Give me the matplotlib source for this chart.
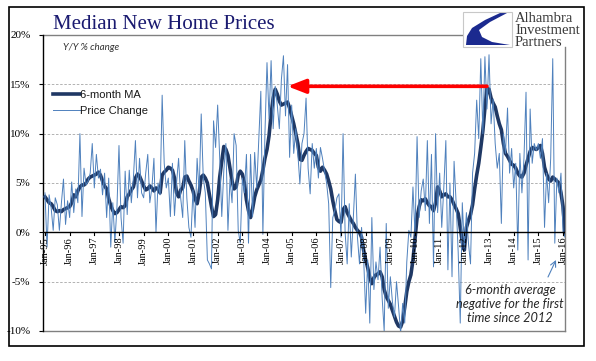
import matplotlib
matplotlib.use("Agg")
import matplotlib.pyplot as plt
from matplotlib.patches import Rectangle, Polygon
from matplotlib.lines import Line2D
import numpy as np


# Monthly data, Jan 1995 - Feb 2016 (Y/Y % change)
start_year = 1995

ma_6m = [
    3.6, 3.3, 3.0, 2.9, 2.6, 2.2, 2.1, 2.2, 2.1, 2.3, 2.4, 2.5,          # 1995
    2.6, 3.0, 3.8, 3.6, 4.2, 4.6, 4.8, 4.8, 5.0, 5.4, 5.6, 5.7,          # 1996
    5.8, 5.9, 6.1, 5.8, 5.2, 4.7, 4.4, 3.4, 2.7, 2.2, 1.9, 2.0,          # 1997
    2.3, 2.6, 2.5, 2.7, 3.6, 3.9, 4.3, 4.6, 5.5, 5.9, 5.7, 5.2,          # 1998
    4.7, 4.3, 4.4, 4.7, 4.5, 4.2, 4.5, 4.4, 4.0, 5.8, 6.1, 6.3,          # 1999
    6.6, 6.5, 6.3, 5.5, 4.0, 3.6, 4.3, 4.5, 5.6, 5.7, 5.2, 4.8,          # 2000
    4.2, 3.4, 2.9, 4.0, 5.6, 5.8, 5.5, 5.0, 3.8, 2.6, 1.6, 1.8,          # 2001
    3.3, 5.6, 7.2, 8.7, 8.4, 7.8, 6.5, 5.2, 4.4, 4.6, 5.8, 6.2,          # 2002
    5.9, 5.0, 3.3, 2.2, 1.5, 2.4, 3.6, 4.3, 4.8, 5.3, 6.3, 7.5,          # 2003
    8.4, 9.8, 12.0, 13.6, 14.5, 14.0, 13.3, 12.9, 13.0, 13.1, 13.2, 12.6,  # 2004
    11.8, 11.0, 10.0, 9.0, 7.4, 7.3, 7.8, 8.2, 8.5, 8.4, 8.3, 8.0,       # 2005
    7.8, 6.6, 6.2, 6.6, 6.3, 5.9, 5.2, 4.4, 3.2, 2.2, 1.3, 1.1,          # 2006
    1.0, 2.3, 2.6, 2.0, 1.6, 1.2, 0.9, 0.5, 0.2, 0.0, -0.5, -1.8,        # 2007
    -2.8, -3.6, -4.6, -5.2, -4.6, -4.3, -4.2, -4.0, -4.5, -5.8, -6.5, -6.9,  # 2008
    -7.3, -7.9, -8.5, -9.1, -9.5, -9.6, -9.0, -7.6, -6.0, -5.0, -4.3, -2.8,  # 2009
    -0.6, 1.5, 2.6, 3.3, 3.2, 3.4, 3.0, 2.7, 2.6, 2.2, 3.0, 4.6,         # 2010
    4.2, 3.6, 3.8, 3.9, 3.6, 3.6, 3.3, 2.8, 2.4, 1.9, 0.5, -1.0,         # 2011
    -1.8, 0.5, 1.2, 1.8, 2.8, 4.4, 5.8, 7.0, 8.6, 10.3, 12.6, 14.6,      # 2012
    14.5, 13.6, 13.1, 12.7, 11.8, 11.0, 10.4, 9.0, 8.0, 7.7, 7.3, 6.9,   # 2013
    6.8, 6.5, 6.0, 5.7, 5.6, 6.0, 6.8, 7.5, 8.2, 8.6, 8.5, 8.4,          # 2014
    8.6, 8.8, 8.0, 6.6, 5.9, 5.4, 5.2, 5.6, 5.4, 5.2, 5.0, 4.0,          # 2015
    2.6, -0.2,                                                           # 2016
]

price_change = [
    4.0, -1.5, 3.8, 2.5, 0.2, 3.5, 2.8, 0.2, 3.0, 5.4, 0.8, 3.2,         # 1995
    1.5, 5.1, 2.0, 4.4, 3.0, 10.0, 1.6, 6.5, 4.8, 5.2, 6.0, 9.0,         # 1996
    4.5, 7.9, 5.5, 6.4, 3.8, 6.0, 1.5, 5.5, -1.5, 3.0, -1.0, 2.5,        # 1997
    8.8, 1.5, -1.1, 6.2, 1.8, 6.3, 3.0, 5.5, 9.3, 3.5, 7.5, 4.0,         # 1998
    3.5, 6.0, 7.9, 3.0, 4.5, 7.5, 0.0, 5.0, 3.8, 13.9, 7.0, 4.5,         # 1999
    5.5, 1.6, 7.0, 1.7, 5.0, 7.5, 3.5, 1.5, 9.3, 3.5, 0.5, -0.5,         # 2000
    4.3, 0.5, 7.5, 4.0, 12.0, 5.5, 4.0, -2.8, -3.2, -3.7, 11.3, 8.6,     # 2001
    12.9, 7.5, 1.6, 6.3, 9.0, 0.2, 5.4, 3.0, 10.0, 8.8, 0.2, -1.1,       # 2002
    5.5, 4.0, 7.9, -1.1, 7.9, 1.6, 8.1, 4.5, 9.3, 14.3, -0.2, 10.0,      # 2003
    17.2, 11.5, 17.4, 10.5, 14.8, 12.9, 10.5, 15.5, 17.9, 11.8, 17.0, 7.6,  # 2004
    12.9, 8.0, 10.5, 8.0, 4.9, 9.0, 10.0, 13.6, 6.5, 3.9, 9.0, 6.5,      # 2005
    8.5, 5.5, 8.6, 7.5, 6.2, 5.0, 2.9, -5.6, 1.5, 2.2, 3.5, 3.9,         # 2006
    -0.5, 10.0, 0.0, -3.2, 2.9, -2.5, 1.5, 5.9, -0.5, -3.2, 0.5, -2.5,   # 2007
    -8.2, -2.8, -9.2, 1.5, -5.8, -3.0, -4.8, -1.5, -6.6, -10.0, 0.9, -7.7,  # 2008
    -4.5, -7.0, -8.6, -5.0, -7.5, -10.2, -7.2, -9.2, -3.0, 0.2, -0.5, 4.6,  # 2009
    -0.2, 9.7, 1.5, 4.2, 5.4, 2.2, 9.3, 0.9, 7.9, -3.5, 10.0, 2.0,       # 2010
    6.0, 0.5, 4.5, 9.3, -3.8, 5.0, -4.5, 7.2, 3.0, -2.0, -9.2, 3.0,      # 2011
    -1.5, 2.0, -1.1, -3.2, 6.0, 8.0, 13.4, 9.5, 17.6, 10.0, 17.8, 12.5,  # 2012
    18.0, 11.0, 13.5, 9.0, 6.5, 8.0, 0.9, 10.0, 8.0, 12.6, 6.0, 8.5,     # 2013
    4.5, 7.0, -1.8, 8.0, 4.0, 7.5, 14.2, -2.8, 12.5, 7.0, 9.0, 8.3,      # 2014
    9.0, 7.5, 9.5, 0.5, 6.0, 3.0, 7.5, 17.6, -1.1, 5.5, 4.0, 6.0,        # 2015
    0.0, -0.5,                                                           # 2016
]

tick_years = list(range(1995, 2017))
tick_labels = ["Jan-%02d" % (y % 100) for y in tick_years]
y_ticks = [-10, -5, 0, 5, 10, 15, 20]
y_labels = ["%d%%" % v for v in y_ticks]

# arrow from the 2013 peak back to the 2004 level
arrow_head_date = 2004 + 10 / 12.0

note_text = "6-month average\nnegative for the first\ntime since 2012"

MA_COLOR = "#1f3864"
PC_COLOR = "#4f81bd"
SERIF = "Liberation Serif"

W, H = 596, 361


def fx(px):
    return px / W


def fy(py):
    return 1 - py / H


months = np.arange(len(ma_6m))
dates = start_year + months / 12.0

fig = plt.figure(figsize=(5.96, 3.61), dpi=100)
ax = fig.add_axes([fx(43), fy(331), (565 - 43) / W, (331 - 35) / H])

ax.plot(dates, ma_6m, color=MA_COLOR, lw=2.6, solid_joinstyle="round", label="6-month MA", zorder=3)
ax.plot(dates, price_change, color=PC_COLOR, lw=0.7, label="Price Change", zorder=4)

ax.set_xlim(start_year - 0.08, start_year + 21.08)
ax.set_ylim(-10, 20)

# gridlines
for g in [-5, 5, 10, 15]:
    ax.axhline(g, color="#a6a6a6", lw=0.6, ls=(0, (3, 2)), zorder=1)

# spines
for s in ["top", "right", "bottom"]:
    ax.spines[s].set_visible(False)
ax.spines["left"].set_color("black")
ax.spines["left"].set_linewidth(1.0)

zero_line = Line2D([0, 1], [1 / 3.0, 1 / 3.0], transform=ax.transAxes, color="black", lw=1.0, zorder=5)
ax.add_line(zero_line)
ax.plot([0, 1], [0, 0], transform=ax.transAxes, color="#808080", lw=1.0, clip_on=False)
ax.plot([0, 0.803], [1, 1], transform=ax.transAxes, color="#808080", lw=1.0, clip_on=False)
ax.plot([1, 1], [0, 0.96], transform=ax.transAxes, color="#808080", lw=1.0, clip_on=False)

# x ticks along the zero line
ax.set_xticks([])
for yr, lab in zip(tick_years, tick_labels):
    ax.plot([yr, yr], [0, -0.3], color="black", lw=0.8, clip_on=False, zorder=5)
    ax.text(yr, -0.45, lab, rotation=90, ha="center", va="top", fontsize=7.5,
            family=SERIF, color="black", zorder=6)

ax.set_yticks(y_ticks)
ax.set_yticklabels(y_labels, family=SERIF, fontsize=8)
ax.tick_params(axis="y", direction="out", length=3, pad=6, width=0.8)

# legend
leg = ax.legend(loc="upper left", bbox_to_anchor=(0.02, 0.815), frameon=False,
                handlelength=2.4, handletextpad=0.0, labelspacing=0.55, borderpad=0,
                borderaxespad=0, prop={"family": "Liberation Sans", "size": 8})
for t in leg.get_texts():
    t.set_color("#1a1a1a")

ax.text((63 - 43) / (565 - 43), (331 - 48) / 296.0, "Y/Y % change", transform=ax.transAxes,
        fontsize=7, style="italic", family="Lato", color="#333333", va="center")

# red arrow: from the 2013 peak back to the 2004-05 level
late = dates >= 2010
peak_idx = np.argmax(np.where(late, ma_6m, -99))
ax.annotate("", xy=(arrow_head_date, ma_6m[peak_idx] + 0.2), xytext=(dates[peak_idx], ma_6m[peak_idx] + 0.2),
            arrowprops=dict(arrowstyle="-|>,head_width=0.35,head_length=0.9", color="#ff0000",
                            lw=2.6, mutation_scale=12, shrinkA=0, shrinkB=0), zorder=7)

# annotation
fig.text(fx(510), fy(304), note_text, ha="center", va="center", fontsize=9.2, style="italic",
         family="Lato", color="#262626", linespacing=1.15)
ax.annotate("", xy=(fx(556), fy(260)), xytext=(fx(548), fy(277)), xycoords="figure fraction",
            textcoords="figure fraction",
            arrowprops=dict(arrowstyle="->", color=PC_COLOR, lw=0.8, shrinkA=0, shrinkB=0))

# title
fig.text(fx(53), fy(29), "Median New Home Prices", fontsize=15, family=SERIF,
         color="#1a1a70", va="baseline", ha="left")

# logo
lx0, ltop, lw_, lh_ = 463, 12, 49, 35
fig.patches.append(Rectangle((fx(lx0), fy(ltop + lh_)), lw_ / W, lh_ / H, transform=fig.transFigure,
                             facecolor="white", edgecolor="#c8c8c8", lw=0.8))
shape = [(0.755, 0.97), (0.898, 0.97), (0.551, 0.714), (0.327, 0.486), (0.388, 0.286),
         (0.592, 0.143), (0.959, 0.057), (0.061, 0.057), (0.082, 0.314), (0.184, 0.543),
         (0.449, 0.771)]
poly = Polygon([(fx(lx0 + u * lw_), fy(ltop + lh_) + v * lh_ / H) for u, v in shape], closed=True,
               transform=fig.transFigure, facecolor="#1b2a8f", edgecolor="none")
fig.patches.append(poly)
for i, word in enumerate(["Alhambra", "Investment", "Partners"]):
    fig.text(fx(515), fy(22 + 12 * i), word, fontsize=10.5, family=SERIF, color="#3a3a3a",
             va="baseline", ha="left")

# outer frame
fig.patches.append(Rectangle((fx(9), fy(346)), (584 - 9) / W, (346 - 7) / H, transform=fig.transFigure,
                             facecolor="none", edgecolor="black", lw=1.2))

fig.savefig("out.png", dpi=100)
